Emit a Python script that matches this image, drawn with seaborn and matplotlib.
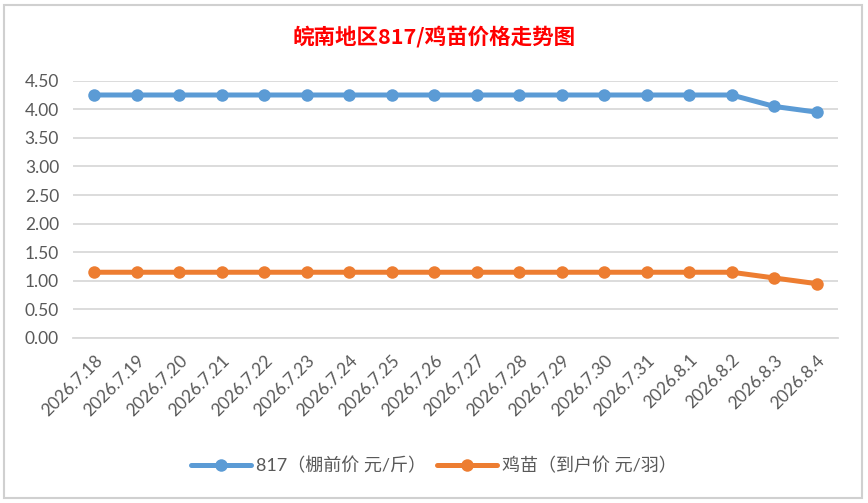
import matplotlib
matplotlib.use("Agg")
import matplotlib.pyplot as plt
import seaborn as sns
import pandas as pd
from matplotlib.lines import Line2D
from matplotlib.patches import Rectangle

dates = ["2026.7.18", "2026.7.19", "2026.7.20", "2026.7.21", "2026.7.22", "2026.7.23",
         "2026.7.24", "2026.7.25", "2026.7.26", "2026.7.27", "2026.7.28", "2026.7.29",
         "2026.7.30", "2026.7.31", "2026.8.1", "2026.8.2", "2026.8.3", "2026.8.4"]
s817 = [4.25, 4.25, 4.25, 4.25, 4.25, 4.25, 4.25, 4.25, 4.25, 4.25, 4.25, 4.25,
        4.25, 4.25, 4.25, 4.25, 4.05, 3.95]
chick = [1.15, 1.15, 1.15, 1.15, 1.15, 1.15, 1.15, 1.15, 1.15, 1.15, 1.15, 1.15,
         1.15, 1.15, 1.15, 1.15, 1.05, 0.95]
series_names = ["817（棚前价 元/斤）", "鸡苗（到户价 元/羽）"]
title = "皖南地区817/鸡苗价格走势图"
yticks = [0.0, 0.5, 1.0, 1.5, 2.0, 2.5, 3.0, 3.5, 4.0, 4.5]

sns.set_theme(style="white")
plt.rcParams['font.family'] = ['Lato', 'Noto Sans CJK SC', 'DejaVu Sans']

colors = ["#5B9BD5", "#ED7D31"]
df = pd.DataFrame({
    "idx": list(range(len(dates))) * 2,
    "value": s817 + chick,
    "series": [series_names[0]] * len(dates) + [series_names[1]] * len(dates),
})

fig = plt.figure(figsize=(8.68, 5.03), dpi=100)
fig.patch.set_facecolor("white")
ax = fig.add_axes([73 / 868, 1 - 338 / 503, (838 - 73) / 868, (338 - 80.7) / 503])

sns.lineplot(data=df, x="idx", y="value", hue="series", palette=colors,
             marker="o", markersize=9, linewidth=3.6, markeredgewidth=0,
             legend=False, ax=ax, zorder=3)

ax.set_xlim(-0.5, len(dates) - 0.5)
ax.set_ylim(0, 4.5)
ax.set_yticks(yticks)
ax.set_yticklabels([f"{v:.2f}" for v in yticks], fontsize=12.5, color="#595959")
ax.set_xticks(range(len(dates)))
ax.set_xticklabels(dates, rotation=45, ha="right", rotation_mode="anchor",
                   fontsize=12.5, color="#595959")
ax.tick_params(axis="y", length=0, pad=10)
ax.tick_params(axis="x", length=0, pad=10)
ax.set_xlabel("")
ax.set_ylabel("")
ax.grid(axis="y", color="#D9D9D9", linewidth=1.3)
ax.set_axisbelow(True)
for s in ["top", "right", "left"]:
    ax.spines[s].set_visible(False)
ax.spines["bottom"].set_color("#D9D9D9")
ax.spines["bottom"].set_linewidth(1.3)

fig.text(0.5, 1 - 37 / 503, title, color="#FF0000", fontsize=15.5, fontweight="bold",
         ha="center", va="center", family=['Noto Sans CJK SC', 'DejaVu Sans'])

handles = [Line2D([0], [0], color=c, linewidth=3.6, marker="o", markersize=9,
                  markeredgewidth=0) for c in colors]
fig.legend(handles, series_names, loc="center", bbox_to_anchor=(0.5, 1 - 466 / 503),
           ncol=2, frameon=False, labelcolor="#595959",
           handlelength=3.3, handletextpad=0.3, columnspacing=0.6,
           prop={'family': ['Lato', 'Noto Sans CJK SC', 'DejaVu Sans'], 'size': 13})

fig.add_artist(Rectangle((4 / 868, 5 / 503), (862 - 4) / 868, (498 - 5) / 503,
                         transform=fig.transFigure, fill=False,
                         edgecolor="#D0D0D0", linewidth=1.5))

fig.savefig("out.png", dpi=100, facecolor="white")
